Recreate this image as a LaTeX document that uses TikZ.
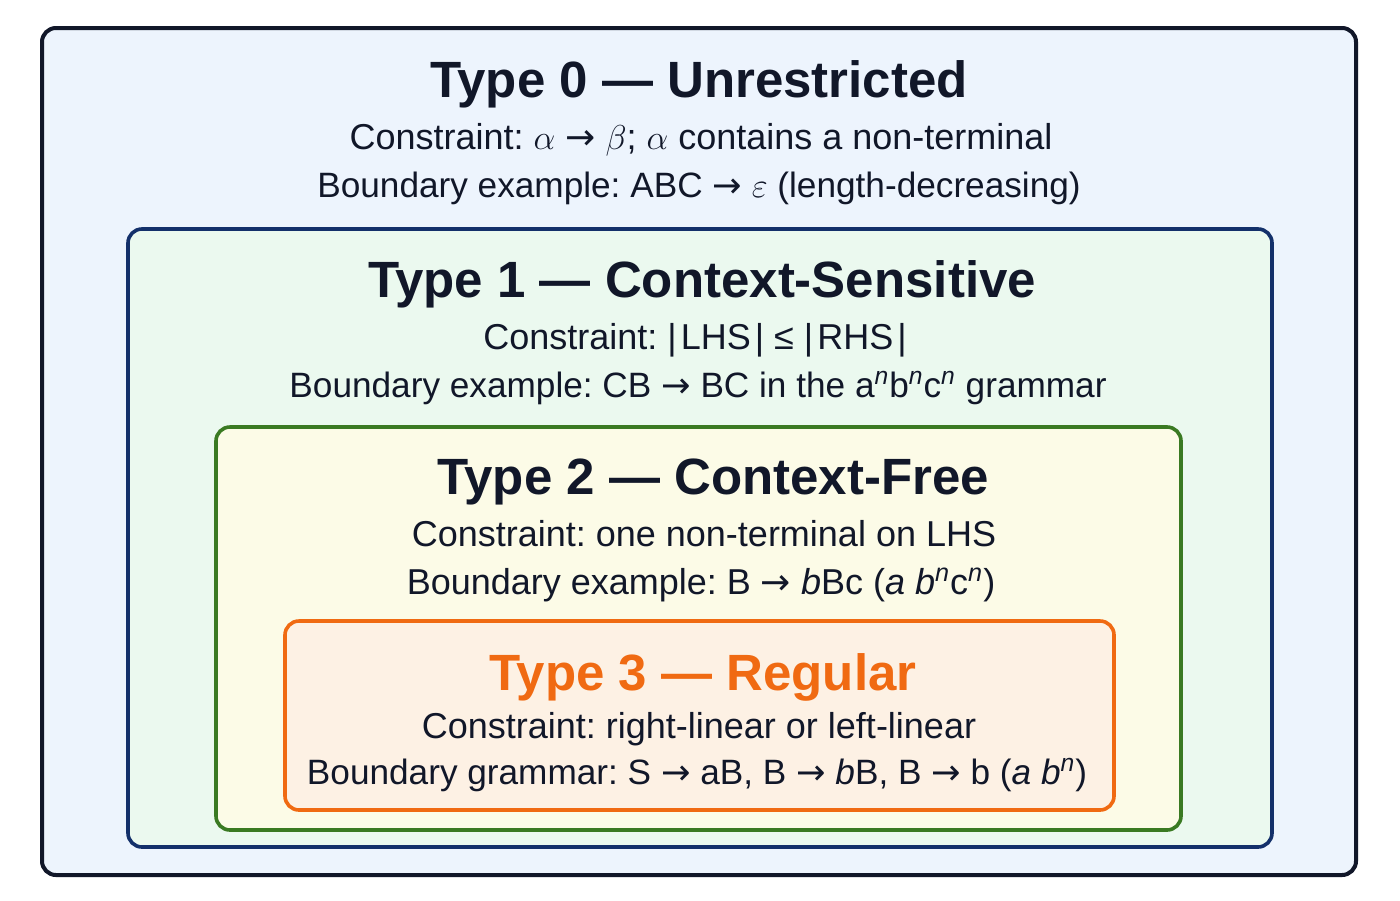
\documentclass[tikz,border=0pt]{standalone}
\usepackage{fontspec}
\setmainfont{Liberation Sans}
\newfontfamily\arrowfont{DejaVu Sans}
\newcommand{\arr}{{\arrowfont →}}
\newcommand{\lenof}[1]{|\hspace{2pt}#1\hspace{2pt}|}
\frenchspacing
\definecolor{ink}{HTML}{111729}
\definecolor{navy}{HTML}{13306A}
\definecolor{leaf}{HTML}{3A7A22}
\definecolor{amber}{HTML}{F06A12}
\definecolor{fill0}{HTML}{EDF4FD}
\definecolor{fill1}{HTML}{EBF9EF}
\definecolor{fill2}{HTML}{FCFBE7}
\definecolor{fill3}{HTML}{FDF1E4}
\begin{document}
\begin{tikzpicture}[x=0.5pt,y=-0.5pt,
    lvl/.style={line width=1.8pt, rounded corners=7pt},
    tnode/.style={anchor=base, inner sep=0pt, text=ink, font=\fontsize{25.5}{28}\selectfont\bfseries},
    bnode/.style={anchor=base, inner sep=0pt, text=ink, font=\fontsize{18}{21}\selectfont},
    snode/.style={bnode, font=\fontsize{17.6}{21}\selectfont}]
    \useasboundingbox[fill=white] (0,0) rectangle (1400,900);

    \draw[lvl, draw=ink, line width=2pt, fill=fill0] (42,28) rectangle (1356,875);
    \draw[lvl, draw=navy, fill=fill1] (128,229) rectangle (1272,847);
    \draw[lvl, draw=leaf, fill=fill2] (216,427) rectangle (1181,830);
    \draw[lvl, draw=amber, fill=fill3] (285,621) rectangle (1114,810);

    \node[tnode] (t0) at (699,97) {Type 0 — Unrestricted};
    \node[bnode] (c0) at (701,149) {Constraint: $\alpha$ \arr\ $\beta$; $\alpha$ contains a non-terminal};
    \node[snode] (b0) at (699,197) {Boundary example: ABC \arr\ $\varepsilon$ (length-decreasing)};

    \node[tnode] (t1) at (702,297) {Type 1 — Context-Sensitive};
    \node[bnode] (c1) at (695,349) {Constraint: \lenof{LHS} ≤ \lenof{RHS}};
    \node[snode] (b1) at (698,397) {Boundary example: CB \arr\ BC in the a\textsuperscript{\itshape n}b\textsuperscript{\itshape n}c\textsuperscript{\itshape n} grammar};

    \node[tnode] (t2) at (713,494) {Type 2 — Context-Free};
    \node[bnode] (c2) at (704,546) {Constraint: one non-terminal on LHS};
    \node[bnode] (b2) at (701,594) {Boundary example: B \arr\ \textit{b}Bc (\textit{a} \textit{b}\textsuperscript{\itshape n}c\textsuperscript{\itshape n})};

    \node[tnode, text=amber] (t3) at (703,690) {Type 3 — Regular};
    \node[bnode] (c3) at (699,738) {Constraint: right-linear or left-linear};
    \node[snode] (b3) at (697,784) {Boundary grammar: S \arr\ aB, B \arr\ \textit{b}B, B \arr\ b (\textit{a} \textit{b}\textsuperscript{\itshape n})};
\end{tikzpicture}
\end{document}
